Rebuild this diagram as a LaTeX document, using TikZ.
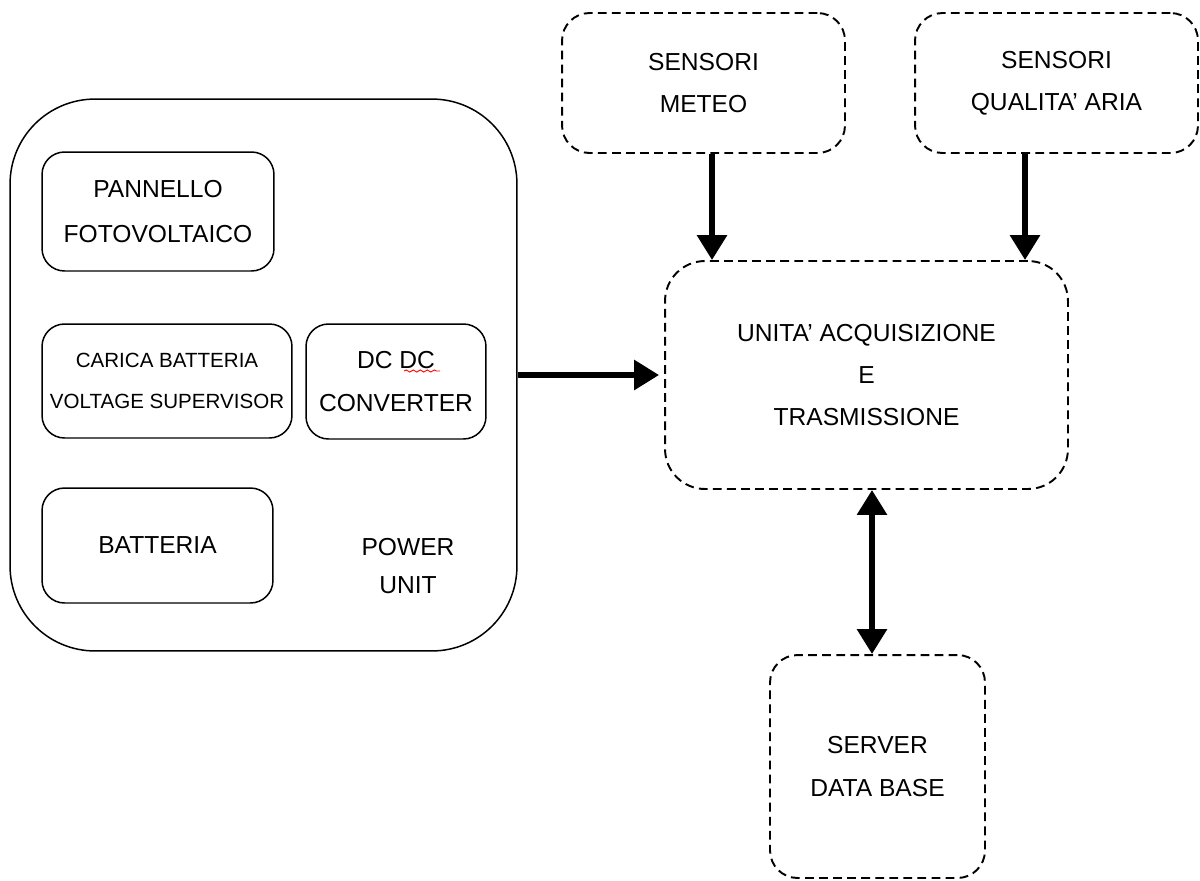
\documentclass[tikz,border=0pt]{standalone}
\usepackage{fontspec}
\setmainfont{Liberation Sans}
\usepackage{tikz}
\usetikzlibrary{arrows.meta,decorations.pathmorphing}

\begin{document}
\begin{tikzpicture}[x=0.02cm,y=-0.02cm,
    txt/.style={align=center,font=\fontsize{14}{24}\selectfont},
    blocco/.style={draw,line width=0.85pt,rounded corners=0.45cm,txt},
    tratt/.style={draw,line width=1.1pt,dash pattern=on 5pt off 3pt,rounded corners=0.55cm,txt},
    freccia/.style={line width=3.4pt,-{Triangle[length=0.5cm,width=0.58cm]}},
    doppia/.style={line width=3.4pt,{Triangle[length=0.5cm,width=0.58cm]}-{Triangle[length=0.5cm,width=0.58cm]}}]
  \useasboundingbox (0,0) rectangle (1200,880);
  % power unit
  \node[draw,line width=0.85pt,rounded corners=1.7cm,minimum width=10.14cm,minimum height=11.04cm] (power) at (263.5,375) {};
  \node[blocco,minimum width=4.64cm,minimum height=2.38cm,font=\fontsize{14}{25.5}\selectfont] (pannello) at (158,211.5) {PANNELLO\\FOTOVOLTAICO};
  \node[blocco,minimum width=5cm,minimum height=2.28cm,font=\fontsize{11.7}{23}\selectfont] (carica) at (167,381) {CARICA BATTERIA\\VOLTAGE SUPERVISOR};
  \node[blocco,minimum width=3.6cm,minimum height=2.3cm] (dcdc) at (396,381.5) {DC DC\\CONVERTER};
  \node[blocco,minimum width=4.62cm,minimum height=2.3cm] (batteria) at (157.5,545.5) {BATTERIA};
  \node[txt,font=\fontsize{14}{22}\selectfont] (etichetta) at (408,566) {POWER\\UNIT};
  \draw[red,line width=0.5pt,decorate,decoration={snake,segment length=4pt,amplitude=0.6pt}] (404,371) -- (440,371);
  % sensori e unita
  \node[tratt,minimum width=5.66cm,minimum height=2.8cm] (meteo) at (703.5,83) {SENSORI\\METEO};
  \node[tratt,minimum width=5.66cm,minimum height=2.8cm] (qualita) at (1056.5,83) {SENSORI\\QUALITA’ ARIA};
  \node[tratt,rounded corners=0.8cm,minimum width=8.06cm,minimum height=4.56cm] (unita) at (866.5,375) {UNITA’ ACQUISIZIONE\\E\\TRASMISSIONE};
  \node[tratt,minimum width=4.3cm,minimum height=4.46cm] (server) at (877.5,766.5) {SERVER\\DATA BASE};
  % collegamenti
  \draw[freccia,shorten >=0.1cm] (power.east) -- (unita.west);
  \draw[freccia] ([xshift=0.17cm]meteo.south) -- ([xshift=0.17cm]meteo.south |- unita.north);
  \draw[freccia] ([xshift=-0.63cm]qualita.south) -- ([xshift=-0.63cm]qualita.south |- unita.north);
  \draw[doppia] ([xshift=0.11cm]unita.south) -- ([xshift=0.11cm]unita.south |- server.north);
\end{tikzpicture}
\end{document}
